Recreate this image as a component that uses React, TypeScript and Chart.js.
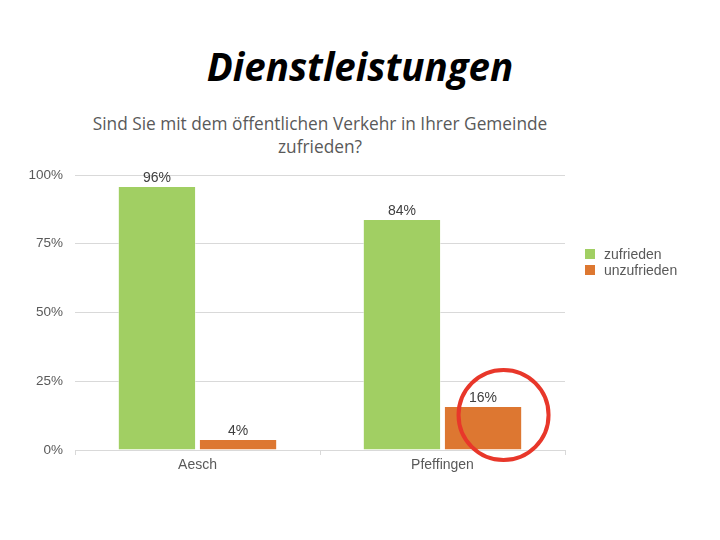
import React, { useEffect, useRef } from "react";
import { Chart, registerables } from "chart.js";

Chart.register(...registerables);

const categories = ["Aesch", "Pfeffingen"];
const zufrieden = [96, 84];
const unzufrieden = [4, 16];
const yTicks = [0, 25, 50, 75, 100];
const seriesNames = ["zufrieden", "unzufrieden"];
const colors = ["#a1cf63", "#dd7731"];

const FONT = "'Liberation Sans', Arial, sans-serif";

const valueLabels = {
  id: "valueLabels",
  afterDatasetsDraw(chart: any) {
    const ctx = chart.ctx;
    ctx.save();
    ctx.font = "14px " + FONT;
    ctx.fillStyle = "#404040";
    ctx.textAlign = "center";
    ctx.textBaseline = "alphabetic";
    chart.data.datasets.forEach((ds: any, di: number) => {
      const meta = chart.getDatasetMeta(di);
      meta.data.forEach((bar: any, i: number) => {
        ctx.fillText(ds.data[i] + "%", bar.x, bar.y - 4);
      });
    });
    // red annotation circle around Pfeffingen "unzufrieden"
    const target = chart.getDatasetMeta(1).data[1];
    if (target) {
      ctx.beginPath();
      ctx.strokeStyle = "#e8372a";
      ctx.lineWidth = 4;
      ctx.arc(target.x + 20.5, target.y + 9, 45, 0, Math.PI * 2);
      ctx.stroke();
    }
    ctx.restore();
  },
};

export default function App() {
  const ref = useRef<HTMLCanvasElement>(null);
  useEffect(() => {
    if (!ref.current) return;
    const chart = new Chart(ref.current, {
      type: "bar",
      data: {
        labels: categories,
        datasets: [
          {
            label: seriesNames[0],
            data: zufrieden,
            backgroundColor: colors[0],
            borderColor: "rgba(255,255,255,0.45)",
            borderWidth: 1,
            barPercentage: 0.965,
            categoryPercentage: 0.662,
          },
          {
            label: seriesNames[1],
            data: unzufrieden,
            backgroundColor: colors[1],
            borderColor: "rgba(255,255,255,0.45)",
            borderWidth: 1,
            barPercentage: 0.965,
            categoryPercentage: 0.662,
          },
        ],
      },
      options: {
        animation: false,
        responsive: false,
        maintainAspectRatio: false,
        layout: { padding: { left: 0, right: 155, top: 175, bottom: 60 } },
        plugins: {
          legend: { display: false },
          title: { display: false },
          tooltip: { enabled: false },
        },
        scales: {
          x: {
            grid: {
              display: true,
              drawOnChartArea: false,
              drawTicks: true,
              tickLength: 5,
              color: "#d9d9d9",
              offset: true,
            },
            border: { display: true, color: "#d9d9d9" },
            ticks: {
              color: "#595959",
              font: { family: FONT, size: 14 },
              padding: 2,
            },
            afterFit(scale: any) {
              scale.height = 30;
            },
          },
          y: {
            min: 0,
            max: 100,
            afterBuildTicks(scale: any) {
              scale.ticks = yTicks.map((v) => ({ value: v }));
            },
            grid: { color: "#d9d9d9", drawTicks: false },
            border: { display: false },
            ticks: {
              color: "#595959",
              font: { family: FONT, size: 13.5 },
              padding: 12,
              callback: (v: any) => v + "%",
            },
            afterFit(scale: any) {
              scale.width = 75;
            },
          },
        },
      },
      plugins: [valueLabels],
    });
    return () => chart.destroy();
  }, []);

  const legendFont = "14px " + FONT;
  return (
    <div style={{ position: "absolute", left: 0, top: 0, width: 720, height: 540, background: "#fff" }}>
      <div
        style={{
          position: "absolute",
          left: 0,
          width: 720,
          top: 39,
          textAlign: "center",
          fontFamily: "'Open Sans', sans-serif",
          fontWeight: 700,
          fontStyle: "italic",
          fontSize: 38.5,
          lineHeight: "54px",
          color: "#000",
        }}
      >
        Dienstleistungen
      </div>
      <div
        style={{
          position: "absolute",
          left: 70,
          width: 500,
          top: 112,
          textAlign: "center",
          fontFamily: "'Open Sans', sans-serif",
          fontSize: 17.3,
          lineHeight: "23px",
          color: "#595959",
        }}
      >
        Sind Sie mit dem öffentlichen Verkehr in Ihrer Gemeinde
        <br />
        zufrieden?
      </div>
      <canvas ref={ref} width={720} height={540} style={{ position: "absolute", left: 0, top: 0 }} />
      <div style={{ position: "absolute", left: 585, top: 246, font: legendFont, color: "#595959" }}>
        {seriesNames.map((n, i) => (
          <div key={n} style={{ display: "flex", alignItems: "center", height: 16 }}>
            <span
              style={{
                display: "inline-block",
                width: 10,
                height: 10,
                background: colors[i],
                marginRight: 9,
              }}
            />
            {n}
          </div>
        ))}
      </div>
    </div>
  );
}
